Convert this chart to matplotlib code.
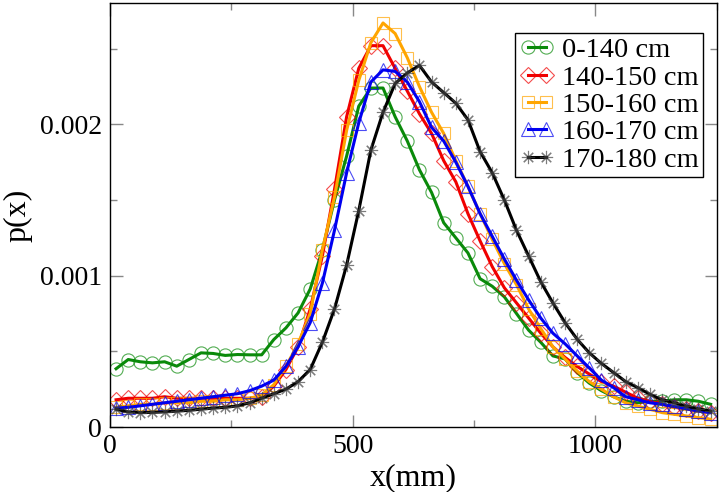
import matplotlib
matplotlib.use("Agg")
import matplotlib.pyplot as plt
from matplotlib.colors import to_rgba
from matplotlib.ticker import MultipleLocator

plt.rcParams['font.family'] = ['Liberation Serif', 'DejaVu Serif']

# bin centres (mm)
x_mm = [12.5 + 25 * k for k in range(50)]

labels = ["0-140 cm", "140-150 cm", "150-160 cm", "160-170 cm", "170-180 cm"]
colors = ["#0a8a0a", "#f00000", "#ffa500", "#0000f0", "#000000"]
markers = ["o", "D", "s", "^", (8, 2, 0)]

p_0_140 = [0.000385, 0.000446, 0.000431, 0.000424, 0.000431, 0.000402, 0.000446, 0.00049, 0.000486, 0.000473,
           0.000479, 0.000477, 0.000477, 0.000578, 0.000655, 0.000754, 0.000912, 0.00117, 0.0015, 0.00179,
           0.00212, 0.00224, 0.00224, 0.00205, 0.00189, 0.0017, 0.00155, 0.00135, 0.00125, 0.00115,
           0.00098, 0.00093, 0.00086, 0.00075, 0.00064, 0.00056, 0.00047, 0.00045, 0.00036, 0.00029,
           0.00024, 0.0002, 0.00017, 0.00016, 0.00017, 0.00017, 0.00018, 0.00018, 0.00017, 0.00015]
p_140_150 = [0.00018, 0.00019, 0.00019, 0.00019, 0.0002, 0.00019, 0.00019, 0.00019, 0.00019, 0.00019,
             0.00019, 0.00019, 0.0002, 0.00027, 0.00038, 0.00053, 0.00078, 0.00113, 0.00157, 0.00205,
             0.00237, 0.00252, 0.00252, 0.00237, 0.00222, 0.00207, 0.00194, 0.00176, 0.00162, 0.00141,
             0.00123, 0.00106, 0.00092, 0.00082, 0.00072, 0.00062, 0.00053, 0.00046, 0.0004, 0.00035,
             0.0003, 0.00027, 0.00023, 0.00019, 0.00017, 0.00015, 0.00013, 0.00012, 0.000105, 0.000095]
p_150_160 = [0.00013, 0.00014, 0.00015, 0.00015, 0.00016, 0.00016, 0.00016, 0.00017, 0.00017, 0.00018,
             0.00018, 0.00019, 0.00021, 0.00028, 0.0004, 0.00055, 0.00075, 0.00117, 0.00152, 0.00196,
             0.00229, 0.00254, 0.00267, 0.0026, 0.00244, 0.00225, 0.00208, 0.00194, 0.00176, 0.00159,
             0.00141, 0.00124, 0.00108, 0.00094, 0.00078, 0.00065, 0.00053, 0.00045, 0.00037, 0.0003,
             0.00025, 0.0002, 0.00016, 0.000138, 0.000117, 0.000095, 0.000084, 0.000073, 0.000062, 0.000051]
p_160_170 = [0.000125, 0.00013, 0.00014, 0.00015, 0.00016, 0.00017, 0.00018, 0.00019, 0.0002, 0.00021,
             0.00022, 0.00024, 0.00027, 0.00031, 0.0004, 0.00053, 0.00069, 0.00095, 0.0013, 0.00168,
             0.00201, 0.00228, 0.00236, 0.00235, 0.00228, 0.00215, 0.00198, 0.00189, 0.00175, 0.00159,
             0.00141, 0.00126, 0.00111, 0.00097, 0.00084, 0.00072, 0.00062, 0.00055, 0.00047, 0.00039,
             0.00031, 0.00026, 0.0002, 0.00018, 0.00016, 0.00015, 0.000136, 0.00012, 0.000105, 0.000095]
p_170_180 = [0.000117, 0.0001, 0.000095, 0.000097, 0.0001, 0.000105, 0.00011, 0.000118, 0.000125, 0.00013,
             0.00014, 0.00016, 0.00019, 0.00022, 0.00025, 0.0003, 0.00038, 0.00056, 0.00078, 0.00107,
             0.00143, 0.00183, 0.00208, 0.00227, 0.00234, 0.00239, 0.00228, 0.00221, 0.00214, 0.00203,
             0.00182, 0.00168, 0.0015, 0.0013, 0.00113, 0.00096, 0.00082, 0.00069, 0.00058, 0.00049,
             0.00042, 0.00036, 0.0003, 0.00026, 0.000216, 0.00018, 0.00016, 0.000138, 0.00012, 0.000105]

series = [p_0_140, p_140_150, p_150_160, p_160_170, p_170_180]

fig = plt.figure(figsize=(7.2, 4.92), dpi=100)
ax = fig.add_axes([0.1528, 0.1321, 0.8426, 0.8612])

for ys, c, m, lab in zip(series, colors, markers, labels):
    if m == "D":
        ms = 8
    elif m == "s":
        ms = 8.5
    else:
        ms = 9.5
    edge = to_rgba("#444444" if c == "#000000" else c, 0.7)
    ax.plot(x_mm, ys, color=c, lw=2.2, marker=m, ms=ms,
            mfc="none", mec=edge, mew=0.8, label=lab)

ax.set_xlim(0, 1250)
ax.set_ylim(0, 0.0028)
ax.xaxis.set_minor_locator(MultipleLocator(250))
ax.yaxis.set_minor_locator(MultipleLocator(0.0005))
ax.set_yticks([0, 0.001, 0.002])
ax.set_yticklabels(["0", "0.001", "0.002"])
ax.set_xticks([0, 500, 1000])
ax.set_xticklabels(["0", "500", "1000"])

ax.tick_params(which="both", direction="in", top=True, right=True,
               color="#888888", labelsize=20)
ax.tick_params(which="major", length=9, width=1, pad=5)
ax.tick_params(which="minor", length=5, width=1)
ax.tick_params(axis="y", which="major", pad=6)

for s in ax.spines.values():
    s.set_linewidth(1)
    s.set_color("black")

ax.set_xlabel("x(mm)", fontsize=23, labelpad=3)
ax.set_ylabel("p(x)", fontsize=23)
ax.yaxis.set_label_coords(-0.128, 0.5)

leg = ax.legend(loc="upper right", bbox_to_anchor=(0.977, 0.930), fontsize=20.5,
                numpoints=2, handlelength=1.25, handletextpad=0.25,
                labelspacing=0.05, borderpad=0.15, borderaxespad=0,
                fancybox=False, framealpha=1, edgecolor="black")
leg.get_frame().set_linewidth(1)

fig.savefig("out.png", dpi=100)
